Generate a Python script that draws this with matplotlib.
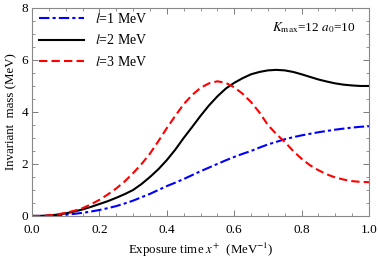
import matplotlib
matplotlib.use('Agg')
import matplotlib.pyplot as plt
from matplotlib.ticker import MultipleLocator, FormatStrFormatter

plt.rcParams['font.family'] = ['Liberation Serif', 'DejaVu Serif']
plt.rcParams['mathtext.fontset'] = 'stix'

# exposure time x+ (MeV^-1)
x = [0.0, 0.025, 0.05, 0.075, 0.1, 0.125, 0.15, 0.175, 0.2, 0.225, 0.25,
     0.275, 0.3, 0.325, 0.35, 0.375, 0.4, 0.425, 0.45, 0.475, 0.5,
     0.525, 0.55, 0.575, 0.6, 0.625, 0.65, 0.675, 0.7, 0.725, 0.75,
     0.775, 0.8, 0.825, 0.85, 0.875, 0.9, 0.925, 0.95, 0.975, 1.0]

# invariant mass (MeV)
m_l1 = [0.0, 0.0, 0.01, 0.03, 0.05, 0.08, 0.12, 0.17, 0.23, 0.3, 0.38,
        0.48, 0.59, 0.72, 0.85, 1.0, 1.15, 1.28, 1.42, 1.57, 1.72,
        1.86, 2.0, 2.14, 2.27, 2.39, 2.5, 2.63, 2.75, 2.85, 2.95,
        3.03, 3.1, 3.16, 3.22, 3.27, 3.32, 3.36, 3.4, 3.43, 3.45]
m_l2 = [0.0, 0.0, 0.02, 0.05, 0.1, 0.17, 0.25, 0.35, 0.46, 0.57, 0.7,
        0.84, 1.0, 1.23, 1.5, 1.8, 2.15, 2.55, 3.0, 3.42, 3.85,
        4.25, 4.6, 4.9, 5.12, 5.3, 5.45, 5.54, 5.6, 5.62, 5.6,
        5.54, 5.45, 5.35, 5.25, 5.17, 5.1, 5.05, 5.02, 5.0, 5.0]
m_l3 = [0.0, 0.0, 0.02, 0.06, 0.12, 0.2, 0.3, 0.45, 0.62, 0.83, 1.06,
        1.33, 1.65, 2.0, 2.4, 2.88, 3.38, 3.85, 4.3, 4.65, 4.93,
        5.1, 5.18, 5.12, 4.95, 4.7, 4.38, 3.98, 3.5, 3.15, 2.85,
        2.5, 2.2, 1.95, 1.76, 1.6, 1.48, 1.4, 1.34, 1.31, 1.3]

labels = [r'$l$=1 MeV', r'$l$=2 MeV', r'$l$=3 MeV']

fig = plt.figure(figsize=(3.78, 2.58), dpi=100)
ax = fig.add_axes([0.085, 0.163, 0.891, 0.806])

ax.plot(x, m_l1, color='blue', lw=1.5, dashes=(5, 1.5, 1.5, 1.5), label=labels[0])
ax.plot(x, m_l2, color='black', lw=1.5, label=labels[1])
ax.plot(x, m_l3, color='red', lw=1.5, dashes=(4, 2), label=labels[2])

ax.set_xlim(0, 1.0)
ax.set_ylim(0, 8)
ax.xaxis.set_major_locator(MultipleLocator(0.2))
ax.xaxis.set_minor_locator(MultipleLocator(0.05))
ax.yaxis.set_major_locator(MultipleLocator(2))
ax.yaxis.set_minor_locator(MultipleLocator(0.5))
ax.xaxis.set_major_formatter(FormatStrFormatter('%.1f'))
ax.tick_params(which='both', direction='in', top=True, right=True,
               colors='#666666', labelcolor='black', labelsize=9.5)
ax.tick_params(which='major', length=4, width=0.6)
ax.tick_params(which='minor', length=2, width=0.5)
ax.tick_params(axis='x', which='major', pad=6)
ax.tick_params(axis='y', which='major', pad=3)
for s in ax.spines.values():
    s.set_color('#888888')
    s.set_linewidth(0.8)

ax.set_xlabel(r'Exposure time $x^{+}$  (MeV$^{-1}$)', fontsize=9.3, labelpad=3)
ax.set_ylabel('Invariant  mass (MeV)', fontsize=9.3, labelpad=3)

ax.text(0.96, 0.905, r'$K_{\rm max}$=12 $a_0$=10', transform=ax.transAxes,
        ha='right', va='center', fontsize=9.5)

ax.legend(loc='upper left', bbox_to_anchor=(0.0, 1.015), frameon=False,
          fontsize=10, handlelength=3.2, borderaxespad=0.1,
          labelspacing=0.55, handletextpad=0.8)

fig.savefig('out.png', dpi=100)
